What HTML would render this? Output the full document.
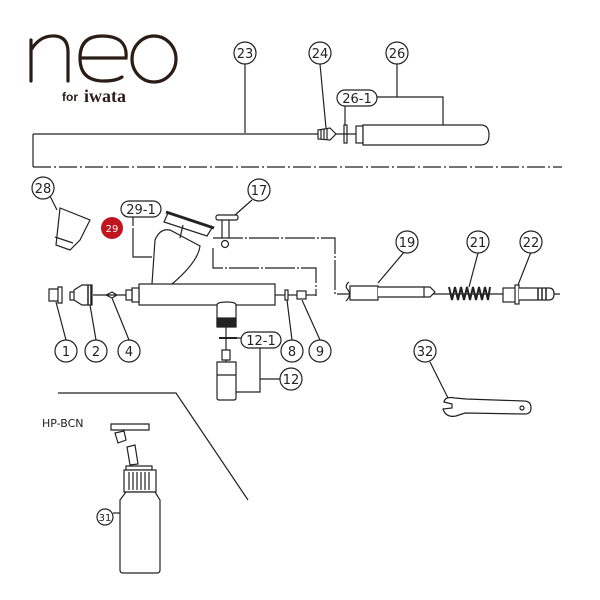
<!DOCTYPE html>
<html><head><meta charset="utf-8"><style>
html,body{margin:0;padding:0;background:#fff}
svg{display:block}
text{font-family:"DejaVu Sans","Liberation Sans",sans-serif}
</style></head><body>
<svg width="600" height="600" viewBox="0 0 600 600" xmlns="http://www.w3.org/2000/svg">
<g fill="none" stroke="#2b1d16" stroke-width="3.2" stroke-linecap="round">
<path d="M31 81 V40 M31 50 Q40 35 55 36 Q68 37 68 52 V81"/>
<path d="M80 58 H126 Q128 36 102 36 Q80 36 80 58 Q80 81 104 81 Q116 81 122 77"/>
<ellipse cx="154" cy="59" rx="22" ry="23"/>
</g>
<text x="62" y="101" font-size="12" font-weight="bold" fill="#2b1d16" style="font-family:'Liberation Sans',sans-serif">for</text>
<text x="84" y="102" font-size="18" font-weight="bold" fill="#2b1d16" style="font-family:'Liberation Serif',serif">iwata</text>

<g stroke="#222" stroke-width="1.2" fill="none">
<path d="M33 134 H318 M33 134 V167"/>
<path d="M33 167 H562" stroke-dasharray="18 3 2 3"/>
<path d="M245 64 V133 M320 64 L326 128 M345 106 V125 M397 64 V97 M377 97 H443 V125"/>
<path d="M318 130 L330 128 L336 134 L330 140 L318 139 Z" fill="#fff"/>
<path d="M321 129 V139 M324 129 V139 M327 129 V139"/>
<rect x="344" y="125" width="3" height="18" fill="#fff"/>
<path d="M336 134 H356"/>
<rect x="356" y="126" width="7" height="17" fill="#fff"/>
<path d="M363 125 H481 Q489 125 489 135 Q489 145 481 145 H363 Z" fill="#fff"/>

<path d="M60 208 L90 220 L80 240 L70 250 L56 245 Z"/>
<path d="M55 237 L73 243"/>
<path d="M50 196 L57 210"/>

<path d="M152 284 L155 240 Q160 228 170 230 L185 238 L200 246 Q198 262 172 284"/>
<path d="M168 213 L212 228 L207 236 L164 222 Z" fill="#fff"/>
<path d="M166 212 L214 228" stroke-width="3"/>
<path d="M183 225 L180 238"/>
<path d="M133 228 V257 H152 M133 217 V226"/>

<path d="M252 200 L235 215"/>
<rect x="216" y="215" width="22" height="5" rx="2" fill="#fff"/>
<path d="M222 220 V238 M229 220 V238"/>
<circle cx="225" cy="244" r="3.5"/>
<path d="M213 238 H335 V294 H348 M213 248 V268 H316 V296" stroke-dasharray="30 2 2 2"/>

<rect x="139" y="284" width="136" height="21" fill="#fff"/>
<rect x="132" y="288" width="7" height="14" fill="#fff"/>
<rect x="126" y="290" width="6" height="10" fill="#fff"/>
<path d="M49 289 H58 V301 H49 Z M58 287 H62 V303 H58 Z" fill="#fff"/>
<path d="M70 292 H74 V300 H70 Z M74 290 L82 285 H92 V305 H82 L74 300 Z" fill="#fff"/>
<path d="M88 285 V305 M91 285 V305" stroke-width="1.5"/>
<path d="M93 295 H126 M106 295 L112 292 L117 295 L112 298 Z"/>
<path d="M275 295 H286"/>
<rect x="285" y="290" width="3" height="10" fill="#fff"/>
<path d="M288 295 H297"/>
<rect x="297" y="291" width="9" height="8" fill="#fff"/>
<path d="M306 295 H316"/>
<path d="M66 340 L56 302 M96 340 L90 305 M129 340 L112 298 M292 340 L287 300 M320 340 L302 300"/>

<path d="M217 305 Q217 302 227 302 Q236 302 236 305 V327 H217 Z" fill="#fff"/>
<rect x="217" y="318" width="19" height="8" fill="#222"/>
<path d="M226 327 V395"/>
<path d="M219 338 H237" stroke-width="2"/>
<path d="M237 338 H241"/>
<path d="M222 350 H230 V360 H222 Z M217 362 H236 V375 H217 Z M217 375 H236 V398 Q236 400 234 400 H219 Q217 400 217 398 Z" fill="#fff"/>
<path d="M280 379 H260 M260 348 V392 H236"/>

<path d="M348 294 H560"/>
<path d="M349 282 Q344 286 348 290 Q352 295 346 301"/>
<path d="M350 286 H378 L378 300 H350 Z" fill="#fff"/>
<path d="M378 287 H430 L435 292 L430 297 H378" fill="#fff"/>
<path d="M424 287 V297"/>
<path d="M378 283 L405 251 M478 253 L469 287 M531 252 L518 285"/>
<path d="M449 287 L452 300 L455 287 L458 300 L461 287 L464 300 L467 287 L470 300 L473 287 L476 300 L479 287 L482 300 L485 287 L488 300 L490 287" stroke-width="2"/>
<rect x="503" y="288" width="15" height="14" fill="#fff"/>
<rect x="515" y="285" width="4" height="19" fill="#fff"/>
<path d="M519 288 H549 Q554 288 554 294 Q554 300 549 300 H519" fill="#fff"/>
<path d="M538 288 V300 M542 288 V300 M546 288 V300" stroke-width="1.5"/>

<path d="M430 362 L448 398"/>
<path d="M455 398 Q445 396 444 402 L452 404 L452 408 L443 409 Q446 418 456 416 L465 413 L525 414 Q531 414 531 408 Q531 401 524 401 L466 399 Z" fill="#fff"/>
<circle cx="522" cy="408" r="2"/>

<path d="M58 393 H176 L248 500"/>
<path d="M111 424 H149 V430 H111 Z"/>
<path d="M115 433 L124 431 L126 440 L118 443 Z"/>
<path d="M127 447 L135 445 L138 464 L130 465 Z"/>
<path d="M126 466 H152 V470 H126 Z"/>
<rect x="124" y="470" width="32" height="22" fill="#fff"/>
<path d="M129 472 V490 M133 472 V490 M137 472 V490 M141 472 V490 M145 472 V490 M149 472 V490"/>
<path d="M126 492 H155 L160 500 V570 Q160 573 157 573 H123 Q120 573 120 570 V500 Z" fill="#fff"/>
<path d="M113 513 H120"/>
</g>

<g font-size="13" fill="#222" text-anchor="middle">
<g stroke="#222" stroke-width="1.2" fill="#fff">
<circle cx="245" cy="53" r="11"/><circle cx="320" cy="53" r="11"/><circle cx="397" cy="53" r="11"/>
<circle cx="43" cy="188" r="11"/><circle cx="259" cy="190" r="11"/>
<circle cx="407" cy="242" r="11"/><circle cx="478" cy="242" r="11"/><circle cx="531" cy="242" r="11"/>
<circle cx="66" cy="351" r="11"/><circle cx="96" cy="351" r="11"/><circle cx="129" cy="351" r="11"/>
<circle cx="292" cy="351" r="11"/><circle cx="320" cy="351" r="11"/><circle cx="291" cy="379" r="11"/>
<circle cx="425" cy="351" r="11"/><circle cx="105" cy="517" r="8"/>
<rect x="337" y="90" width="40" height="16" rx="8"/>
<rect x="121" y="201" width="40" height="16" rx="8"/>
<rect x="241" y="332" width="40" height="16" rx="8"/>
</g>
<circle cx="112" cy="228" r="11" fill="#c0141e"/>
<text x="245" y="58">23</text><text x="320" y="58">24</text><text x="397" y="58">26</text>
<text x="43" y="193">28</text><text x="259" y="195">17</text>
<text x="407" y="247">19</text><text x="478" y="247">21</text><text x="531" y="247">22</text>
<text x="66" y="356">1</text><text x="96" y="356">2</text><text x="129" y="356">4</text>
<text x="292" y="356">8</text><text x="320" y="356">9</text><text x="291" y="384">12</text>
<text x="425" y="356">32</text>
<text x="105" y="521" font-size="10">31</text>
<text x="357" y="103">26-1</text><text x="141" y="214">29-1</text><text x="261" y="345">12-1</text>
<text x="112" y="232" fill="#fff" font-size="10">29</text>
</g>
<text x="42" y="427" font-size="11" fill="#222">HP-BCN</text>
</svg>
</body></html>
